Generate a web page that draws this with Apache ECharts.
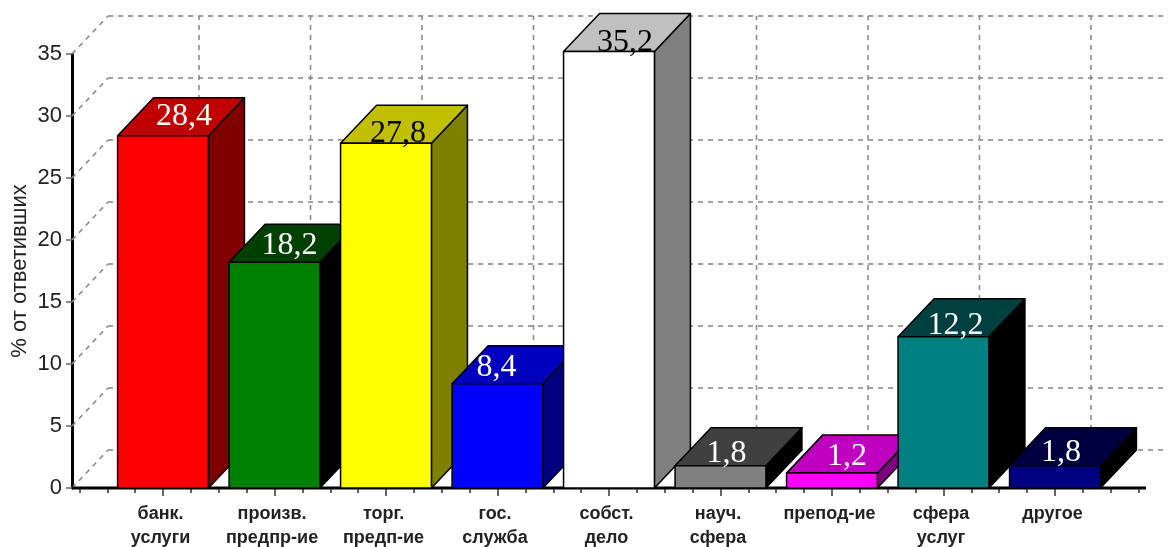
<!DOCTYPE html>
<html>
<head>
<meta charset="utf-8">
<style>
  html, body { margin: 0; padding: 0; background: #fff; }
  #chart { width: 1168px; height: 547px; }
</style>
<script src="https://cdn.jsdelivr.net/npm/echarts@6/dist/echarts.min.js"></script>
</head>
<body>
<div id="chart"></div>
<script>
const categories = ["банк.\nуслуги", "произв.\nпредпр-ие", "торг.\nпредп-ие", "гос.\nслужба", "собст.\nдело", "науч.\nсфера", "препод-ие", "сфера\nуслуг", "другое"];
const values = [28.4, 18.2, 27.8, 8.4, 35.2, 1.8, 1.2, 12.2, 1.8];
const valueLabels = ["28,4", "18,2", "27,8", "8,4", "35,2", "1,8", "1,2", "12,2", "1,8"];
const yTicks = [0, 5, 10, 15, 20, 25, 30, 35];
const yTitle = "% от ответивших";

// front, top, side colours of each bar
const faceColors = ["#ff0000", "#008000", "#ffff00", "#0000ff", "#ffffff", "#808080", "#ff00ff", "#008080", "#000080"];
const topColors = ["#c00000", "#004000", "#c0c000", "#0000c0", "#c0c0c0", "#404040", "#c000c0", "#004040", "#000040"];
const sideColors = ["#800000", "#000000", "#808000", "#000080", "#808080", "#000000", "#800080", "#000000", "#000000"];
const labelColors = ["#fff", "#fff", "#000", "#fff", "#000", "#fff", "#fff", "#fff", "#fff"];
// where the old chart left each number on the bar top, px from the front top centre
const labelNudge = [[21, -19], [15, -17], [12, -10], [-1, -16], [16, -9], [6, -12], [15, -17], [12, -11], [6, -13]];

const DEPTH_X = 36;
const DEPTH_Y = -38;
const BAR_WIDTH = 0.815;
const AXIS_FROM = -0.816;
const AXIS_TO = 8.816;

const chart = echarts.init(document.getElementById("chart"));

function wallLine(p1, p2) {
  return {
    type: "line",
    shape: { x1: p1[0], y1: p1[1], x2: p2[0], y2: p2[1] },
    style: { stroke: "#8c8c8c", lineWidth: 1.6, lineDash: [5, 5] },
  };
}

function renderWallRow(params, api) {
  const v = api.value(0);
  const start = api.coord([AXIS_FROM, v]);
  const end = api.coord([AXIS_TO, v]);
  const back = [start[0] + DEPTH_X, start[1] + DEPTH_Y];
  return {
    type: "group",
    children: [
      wallLine(start, back),
      wallLine(back, [end[0] + DEPTH_X, end[1] + DEPTH_Y]),
    ],
  };
}

function renderWallColumn(params, api) {
  const bottom = api.coord([api.value(0), 0]);
  const top = api.coord([api.value(0), yTicks[yTicks.length - 1]]);
  return wallLine([bottom[0] + DEPTH_X, bottom[1] + DEPTH_Y], [top[0] + DEPTH_X, top[1] + DEPTH_Y]);
}

function renderBar(params, api) {
  const i = params.dataIndex;
  const x = api.value(0);
  const base = api.coord([x, 0]);
  const head = api.coord([x, api.value(1)]);
  const half = api.size([BAR_WIDTH, 0])[0] / 2;
  const l = base[0] - half;
  const r = base[0] + half;
  const t = head[1];
  const b = base[1];
  const edge = { stroke: "#000", lineWidth: 1.5, lineJoin: "round" };
  const poly = (points, fill) => ({
    type: "polygon",
    shape: { points },
    style: { fill, ...edge },
  });
  return {
    type: "group",
    children: [
      poly([[r, t], [r + DEPTH_X, t + DEPTH_Y], [r + DEPTH_X, b + DEPTH_Y], [r, b]], sideColors[i]),
      poly([[l, t], [l + DEPTH_X, t + DEPTH_Y], [r + DEPTH_X, t + DEPTH_Y], [r, t]], topColors[i]),
      poly([[l, t], [r, t], [r, b], [l, b]], faceColors[i]),
    ],
  };
}

function renderValueLabel(params, api) {
  const i = params.dataIndex;
  const head = api.coord([api.value(0), api.value(1)]);
  return {
    type: "text",
    x: head[0] + labelNudge[i][0],
    y: head[1] + labelNudge[i][1],
    style: {
      text: valueLabels[i],
      fill: labelColors[i],
      font: '32px "Liberation Serif"',
      align: "center",
      verticalAlign: "middle",
    },
  };
}

function renderFloorLine(params, api) {
  const a = api.coord([AXIS_FROM, 0]);
  const b = api.coord([AXIS_TO, 0]);
  return {
    type: "line",
    shape: { x1: a[0], y1: a[1], x2: b[0], y2: b[1] },
    style: { stroke: "#000", lineWidth: 3 },
  };
}

const barData = values.map((v, i) => [i, v]);

chart.setOption({
  backgroundColor: "#fff",
  animation: false,
  textStyle: { fontFamily: "Liberation Sans" },
  grid: { left: 79.4, right: 29.4, top: 54, bottom: 59, containLabel: false, outerBoundsMode: "none" },
  xAxis: [
    {
      type: "value",
      min: -0.75,
      max: 8.75,
      interval: 0.25,
      axisLine: { show: false },
      splitLine: { show: false },
      axisTick: { length: 5, lineStyle: { color: "#333", width: 1.5 } },
      axisLabel: { show: false },
    },
    {
      type: "value",
      position: "bottom",
      min: -0.75,
      max: 8.75,
      axisLine: { show: false },
      splitLine: { show: false },
      axisTick: { length: 8, customValues: categories.map((c, i) => i), lineStyle: { color: "#333", width: 1.5 } },
      axisLabel: {
        customValues: categories.map((c, i) => i),
        formatter: (v) => categories[v],
        fontFamily: "Liberation Sans",
        fontWeight: "bold",
        fontSize: 18,
        lineHeight: 24,
        color: "#222",
        margin: 14,
        padding: [0, 5, 0, 0],
        verticalAlign: "top",
      },
    },
  ],
  yAxis: {
    type: "value",
    min: yTicks[0],
    max: yTicks[yTicks.length - 1],
    interval: 5,
    offset: 7.4,
    name: yTitle,
    nameLocation: "middle",
    nameGap: 52,
    nameMoveOverlap: false,
    nameTextStyle: { fontSize: 22, color: "#222", fontFamily: "Liberation Sans", verticalAlign: "middle" },
    axisLine: { show: true, onZero: false, lineStyle: { color: "#000", width: 3 } },
    axisTick: { show: true, length: 6, lineStyle: { color: "#666", width: 1.5 } },
    axisLabel: { fontSize: 22, color: "#222", margin: 10, fontFamily: "Liberation Sans" },
    splitLine: { show: false },
  },
  series: [
    { type: "custom", silent: true, z: 1, clip: false, renderItem: renderWallRow, data: yTicks.map((v) => [v]), encode: { x: [], y: 0 } },
    { type: "custom", silent: true, z: 1, clip: false, renderItem: renderWallColumn, data: categories.map((c, i) => [i]), encode: { x: 0, y: [] } },
    { type: "custom", silent: true, z: 2, clip: false, renderItem: renderFloorLine, data: [[0]], encode: { x: 0, y: [] } },
    { type: "custom", silent: true, z: 3, clip: false, renderItem: renderBar, data: barData, encode: { x: 0, y: 1 } },
    { type: "custom", silent: true, z: 4, clip: false, renderItem: renderValueLabel, data: barData, encode: { x: 0, y: 1 } },
  ],
});
</script>
</body>
</html>
